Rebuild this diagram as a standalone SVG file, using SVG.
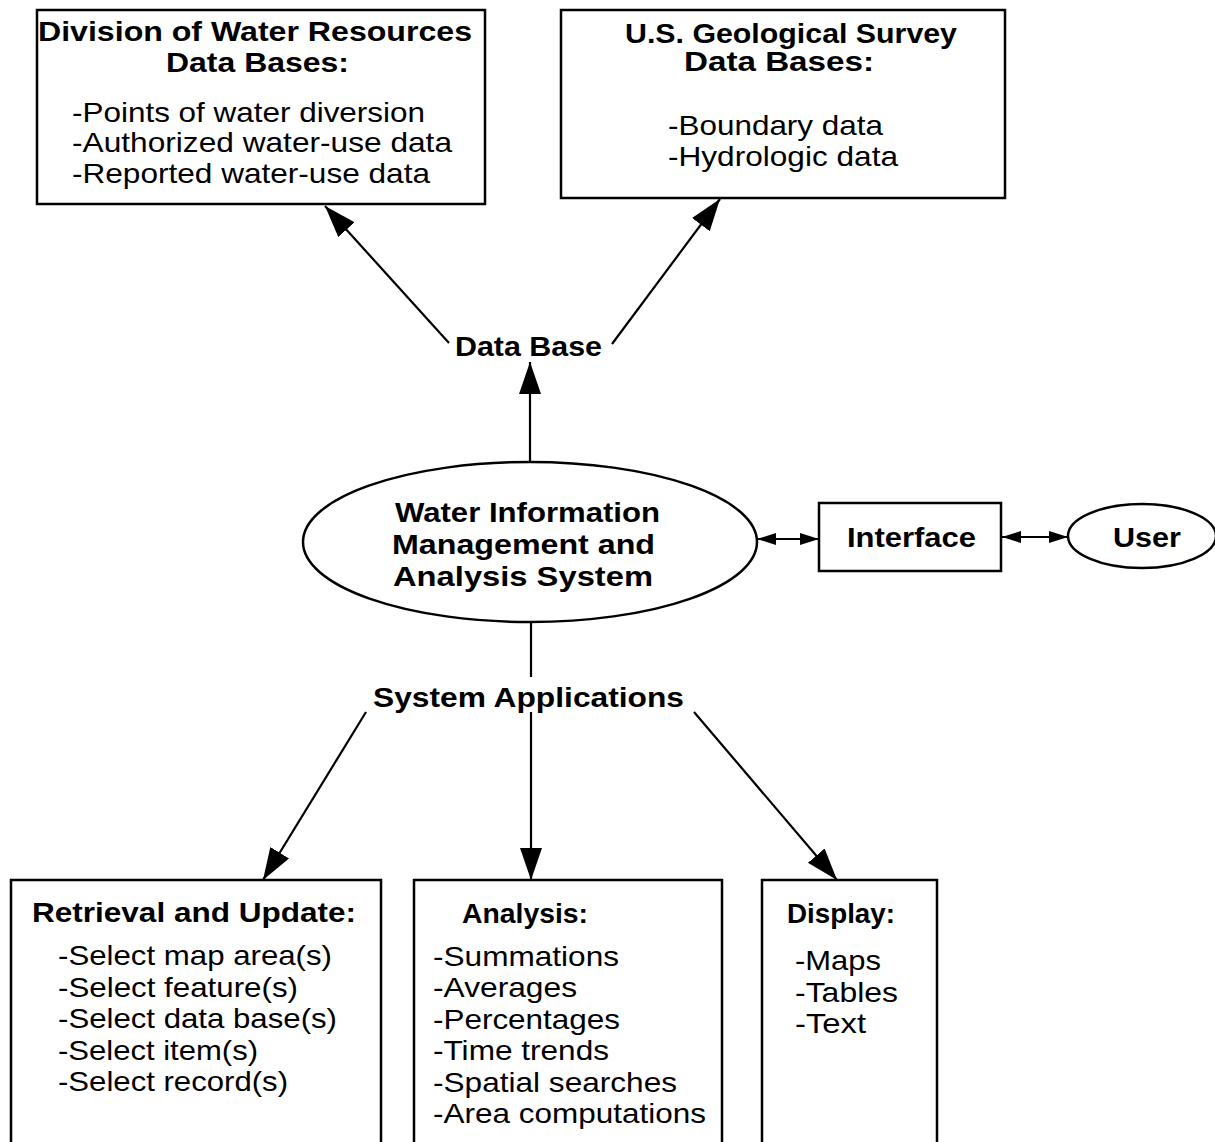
<svg xmlns="http://www.w3.org/2000/svg" width="1215" height="1142" viewBox="0 0 1215 1142">
<style>
.box{fill:#fff;stroke:#000;stroke-width:2.5}
.ln{fill:none;stroke:#000;stroke-width:2.2}
.b{font-family:"Liberation Sans",Arial,Helvetica,sans-serif;font-weight:bold;font-size:28px;fill:#000}
.r{font-family:"Liberation Sans",Arial,Helvetica,sans-serif;font-size:28px;fill:#000}
</style>
<defs>
<marker id="big" markerUnits="userSpaceOnUse" markerWidth="34" markerHeight="24" refX="32" refY="11" orient="auto">
<path d="M0,0 L32,11 L0,22 Z" fill="#000"/>
</marker>
<marker id="sm" markerUnits="userSpaceOnUse" markerWidth="20" markerHeight="14" refX="19" refY="6" orient="auto-start-reverse">
<path d="M0,0 L19,6 L0,12 Z" fill="#000"/>
</marker>
</defs>
<g id="connectors">
<line class="ln" x1="449" y1="343" x2="325" y2="206" marker-end="url(#big)"/>
<line class="ln" x1="612" y1="344" x2="720" y2="199" marker-end="url(#big)"/>
<line class="ln" x1="530" y1="462" x2="530" y2="362" marker-end="url(#big)"/>
<line class="ln" x1="531" y1="623" x2="531" y2="677"/>
<line class="ln" x1="531" y1="712" x2="531" y2="880" marker-end="url(#big)"/>
<line class="ln" x1="366" y1="712" x2="263" y2="880" marker-end="url(#big)"/>
<line class="ln" x1="694" y1="712" x2="837" y2="880" marker-end="url(#big)"/>
<line class="ln" x1="757" y1="539" x2="819" y2="539" marker-start="url(#sm)" marker-end="url(#sm)"/>
<line class="ln" x1="1002" y1="537" x2="1068" y2="537" marker-start="url(#sm)" marker-end="url(#sm)"/>
</g>
<g id="dwr">
<rect class="box" x="37" y="10" width="448" height="194"/>
<text class="b" x="38" y="41" textLength="434" lengthAdjust="spacingAndGlyphs">Division of Water Resources</text>
<text class="b" x="166" y="72" textLength="183" lengthAdjust="spacingAndGlyphs">Data Bases:</text>
<text class="r" x="72" y="122" textLength="353" lengthAdjust="spacingAndGlyphs">-Points of water diversion</text>
<text class="r" x="72" y="152" textLength="380" lengthAdjust="spacingAndGlyphs">-Authorized water-use data</text>
<text class="r" x="72" y="183" textLength="358" lengthAdjust="spacingAndGlyphs">-Reported water-use data</text>
</g>
<g id="usgs">
<rect class="box" x="561" y="10" width="444" height="188"/>
<text class="b" x="625" y="43" textLength="332" lengthAdjust="spacingAndGlyphs">U.S. Geological Survey</text>
<text class="b" x="684" y="71" textLength="190" lengthAdjust="spacingAndGlyphs">Data Bases:</text>
<text class="r" x="668" y="135" textLength="215" lengthAdjust="spacingAndGlyphs">-Boundary data</text>
<text class="r" x="668" y="166" textLength="230" lengthAdjust="spacingAndGlyphs">-Hydrologic data</text>
</g>
<g id="database">
<text class="b" x="455" y="356" textLength="147" lengthAdjust="spacingAndGlyphs">Data Base</text>
</g>
<g id="wimas">
<ellipse class="box" cx="530" cy="542" rx="227" ry="80"/>
<text class="b" x="395" y="522" textLength="265" lengthAdjust="spacingAndGlyphs">Water Information</text>
<text class="b" x="392" y="554" textLength="263" lengthAdjust="spacingAndGlyphs">Management and</text>
<text class="b" x="393" y="586" textLength="260" lengthAdjust="spacingAndGlyphs">Analysis System</text>
</g>
<g id="interface">
<rect class="box" x="819" y="503" width="182" height="68"/>
<text class="b" x="847" y="547" textLength="129" lengthAdjust="spacingAndGlyphs">Interface</text>
</g>
<g id="user">
<ellipse class="box" cx="1142" cy="536" rx="74" ry="32"/>
<text class="b" x="1113" y="547" textLength="68" lengthAdjust="spacingAndGlyphs">User</text>
</g>
<g id="sysapps">
<text class="b" x="373" y="707" textLength="311" lengthAdjust="spacingAndGlyphs">System Applications</text>
</g>
<g id="retrieval">
<rect class="box" x="11" y="880" width="370" height="300"/>
<text class="b" x="32" y="922" textLength="324" lengthAdjust="spacingAndGlyphs">Retrieval and Update:</text>
<text class="r" x="58" y="965" textLength="274" lengthAdjust="spacingAndGlyphs">-Select map area(s)</text>
<text class="r" x="58" y="997" textLength="240" lengthAdjust="spacingAndGlyphs">-Select feature(s)</text>
<text class="r" x="58" y="1028" textLength="279" lengthAdjust="spacingAndGlyphs">-Select data base(s)</text>
<text class="r" x="58" y="1060" textLength="200" lengthAdjust="spacingAndGlyphs">-Select item(s)</text>
<text class="r" x="58" y="1091" textLength="230" lengthAdjust="spacingAndGlyphs">-Select record(s)</text>
</g>
<g id="analysis">
<rect class="box" x="414" y="880" width="308" height="300"/>
<text class="b" x="462" y="923" textLength="126" lengthAdjust="spacingAndGlyphs">Analysis:</text>
<text class="r" x="433" y="966" textLength="186" lengthAdjust="spacingAndGlyphs">-Summations</text>
<text class="r" x="433" y="997" textLength="144" lengthAdjust="spacingAndGlyphs">-Averages</text>
<text class="r" x="433" y="1029" textLength="187" lengthAdjust="spacingAndGlyphs">-Percentages</text>
<text class="r" x="433" y="1060" textLength="176" lengthAdjust="spacingAndGlyphs">-Time trends</text>
<text class="r" x="433" y="1092" textLength="244" lengthAdjust="spacingAndGlyphs">-Spatial searches</text>
<text class="r" x="433" y="1123" textLength="273" lengthAdjust="spacingAndGlyphs">-Area computations</text>
</g>
<g id="display">
<rect class="box" x="762" y="880" width="175" height="300"/>
<text class="b" x="787" y="923" textLength="108" lengthAdjust="spacingAndGlyphs">Display:</text>
<text class="r" x="795" y="970" textLength="86" lengthAdjust="spacingAndGlyphs">-Maps</text>
<text class="r" x="795" y="1002" textLength="103" lengthAdjust="spacingAndGlyphs">-Tables</text>
<text class="r" x="795" y="1033" textLength="71" lengthAdjust="spacingAndGlyphs">-Text</text>
</g>
</svg>
